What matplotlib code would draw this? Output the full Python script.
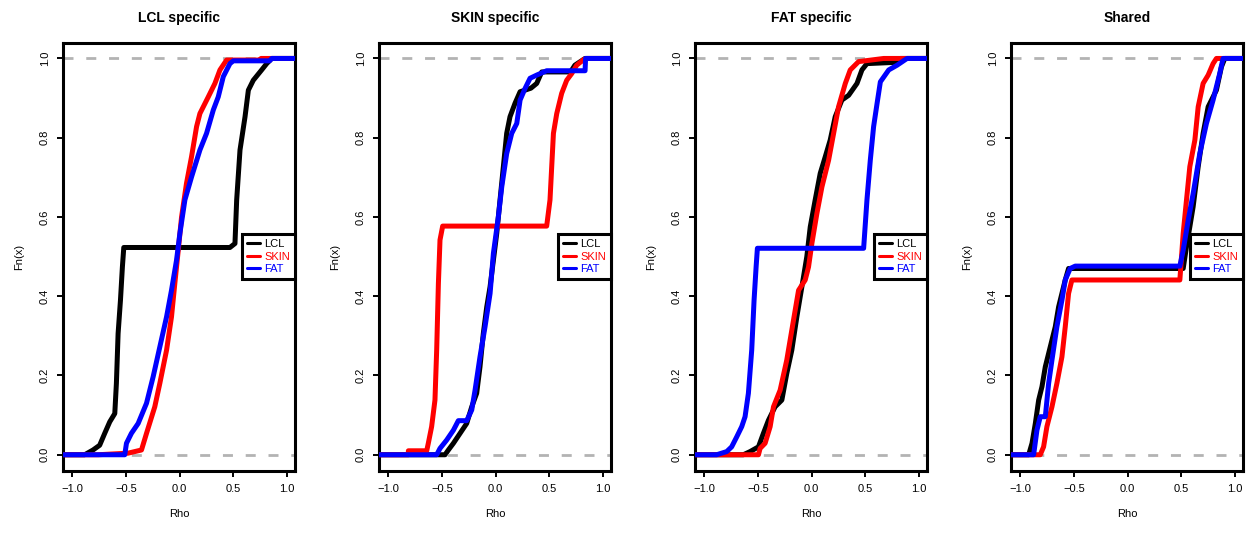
import numpy as np
import matplotlib.pyplot as plt
from matplotlib.ticker import FuncFormatter

plt.rcParams['font.family'] = ['Liberation Sans', 'DejaVu Sans']

titles = ['LCL specific', 'SKIN specific', 'FAT specific', 'Shared']
tissues = ['LCL', 'SKIN', 'FAT']
colors = ['black', '#ff0000', '#0000ff']

# ECDF knots (rho, Fn) per panel and tissue
p1_lcl_rho = [-0.885, -0.807, -0.745, -0.698, -0.651, -0.604, -0.589, -0.573, -0.551, -0.533, -0.520,
              0.470, 0.517, 0.533, 0.564, 0.611, 0.642, 0.688, 0.766, 0.813, 0.860]
p1_lcl_fn = [0.0, 0.012, 0.024, 0.054, 0.083, 0.104, 0.180, 0.306, 0.390, 0.474, 0.523,
             0.523, 0.533, 0.643, 0.769, 0.853, 0.920, 0.945, 0.971, 0.987, 1.0]
p1_skin_rho = [-0.76, -0.48, -0.355, -0.308, -0.231, -0.184, -0.121, -0.075, -0.044, -0.012, 0.019,
               0.065, 0.112, 0.159, 0.190, 0.268, 0.330, 0.377, 0.439, 0.750, 0.760]
p1_skin_fn = [0.0, 0.004, 0.012, 0.054, 0.121, 0.180, 0.264, 0.348, 0.432, 0.516, 0.600,
              0.685, 0.752, 0.828, 0.861, 0.903, 0.937, 0.971, 0.996, 0.996, 1.0]
p1_fat_rho = [-0.511, -0.495, -0.449, -0.386, -0.308, -0.246, -0.184, -0.121, -0.075, -0.028, 0.003,
              0.050, 0.112, 0.190, 0.252, 0.315, 0.361, 0.408, 0.470, 0.502, 0.840, 0.860]
p1_fat_fn = [0.0, 0.029, 0.054, 0.079, 0.130, 0.197, 0.272, 0.348, 0.415, 0.491, 0.558,
             0.643, 0.701, 0.769, 0.811, 0.870, 0.903, 0.954, 0.987, 0.994, 0.994, 1.0]

p2_lcl_rho = [-0.471, -0.440, -0.393, -0.331, -0.269, -0.222, -0.176, -0.145, -0.114, -0.082, -0.051,
              -0.020, 0.011, 0.042, 0.073, 0.104, 0.135, 0.182, 0.229, 0.275, 0.330, 0.384, 0.431,
              0.700, 0.740, 0.835]
p2_lcl_fn = [0.0, 0.012, 0.029, 0.054, 0.079, 0.121, 0.155, 0.222, 0.306, 0.373, 0.424,
             0.491, 0.558, 0.643, 0.727, 0.811, 0.853, 0.887, 0.916, 0.920, 0.925, 0.937, 0.966,
             0.966, 0.983, 1.0]
p2_skin_rho = [-0.813, -0.813, -0.642, -0.627, -0.596, -0.565, -0.549, -0.533, -0.518, -0.493,
               0.477, 0.508, 0.524, 0.540, 0.571, 0.617, 0.664, 0.711, 0.757, 0.820, 0.850]
p2_skin_fn = [0.0, 0.010, 0.010, 0.029, 0.071, 0.138, 0.264, 0.432, 0.542, 0.577,
              0.577, 0.643, 0.727, 0.811, 0.861, 0.912, 0.945, 0.962, 0.983, 0.997, 1.0]
p2_fat_rho = [-0.549, -0.518, -0.456, -0.393, -0.347, -0.269, -0.222, -0.191, -0.145, -0.098, -0.051,
              -0.020, 0.026, 0.058, 0.104, 0.151, 0.198, 0.229, 0.275, 0.322, 0.384, 0.477, 0.835, 0.840]
p2_fat_fn = [0.0, 0.016, 0.037, 0.062, 0.086, 0.086, 0.113, 0.163, 0.247, 0.323, 0.407,
             0.508, 0.600, 0.676, 0.760, 0.811, 0.836, 0.895, 0.924, 0.950, 0.958, 0.969, 0.969, 1.0]

p3_lcl_rho = [-0.636, -0.573, -0.495, -0.449, -0.402, -0.340, -0.277, -0.231, -0.184, -0.137, -0.090,
              -0.044, -0.012, 0.034, 0.081, 0.128, 0.174, 0.221, 0.283, 0.346, 0.424, 0.470, 0.517,
              0.766, 0.829]
p3_lcl_fn = [0.0, 0.008, 0.020, 0.054, 0.087, 0.121, 0.138, 0.205, 0.264, 0.348, 0.424,
             0.500, 0.575, 0.643, 0.710, 0.752, 0.794, 0.853, 0.895, 0.907, 0.937, 0.971, 0.987,
             0.990, 1.0]
p3_skin_rho = [-0.495, -0.480, -0.433, -0.386, -0.355, -0.293, -0.231, -0.168, -0.121, -0.059, -0.028,
               0.003, 0.050, 0.097, 0.159, 0.206, 0.252, 0.315, 0.361, 0.439, 0.673]
p3_skin_fn = [0.0, 0.016, 0.029, 0.071, 0.121, 0.163, 0.239, 0.340, 0.415, 0.441, 0.474,
              0.533, 0.609, 0.676, 0.743, 0.811, 0.878, 0.937, 0.971, 0.992, 1.0]
p3_fat_rho = [-0.885, -0.791, -0.745, -0.698, -0.651, -0.620, -0.589, -0.558, -0.536, -0.517, -0.505,
              0.486, 0.517, 0.548, 0.579, 0.611, 0.642, 0.720, 0.798, 0.891]
p3_fat_fn = [0.0, 0.008, 0.020, 0.045, 0.071, 0.096, 0.155, 0.264, 0.390, 0.474, 0.521,
             0.521, 0.643, 0.743, 0.828, 0.886, 0.941, 0.971, 0.983, 1.0]

p4_lcl_rho = [-0.922, -0.891, -0.860, -0.829, -0.798, -0.767, -0.721, -0.674, -0.643, -0.612, -0.581,
              -0.550, 0.519, 0.550, 0.581, 0.612, 0.659, 0.705, 0.752, 0.829, 0.876, 0.907]
p4_lcl_fn = [0.0, 0.029, 0.079, 0.138, 0.172, 0.222, 0.272, 0.323, 0.373, 0.407, 0.441,
             0.470, 0.470, 0.525, 0.575, 0.626, 0.727, 0.811, 0.878, 0.920, 0.979, 1.0]
p4_skin_rho = [-0.814, -0.783, -0.752, -0.705, -0.659, -0.612, -0.581, -0.550, -0.519,
               0.488, 0.519, 0.550, 0.581, 0.628, 0.659, 0.705, 0.752, 0.798, 0.829]
p4_skin_fn = [0.0, 0.020, 0.071, 0.121, 0.180, 0.247, 0.323, 0.407, 0.441,
              0.441, 0.558, 0.643, 0.727, 0.794, 0.878, 0.937, 0.958, 0.987, 1.0]
p4_fat_rho = [-0.876, -0.845, -0.814, -0.767, -0.736, -0.705, -0.659, -0.612, -0.581, -0.535, -0.488,
              0.488, 0.519, 0.566, 0.612, 0.674, 0.736, 0.798, 0.860, 0.891]
p4_fat_fn = [0.0, 0.062, 0.096, 0.096, 0.180, 0.239, 0.323, 0.390, 0.441, 0.470, 0.476,
             0.476, 0.516, 0.592, 0.659, 0.760, 0.836, 0.895, 0.962, 1.0]

panels = [
    [(p1_lcl_rho, p1_lcl_fn), (p1_skin_rho, p1_skin_fn), (p1_fat_rho, p1_fat_fn)],
    [(p2_lcl_rho, p2_lcl_fn), (p2_skin_rho, p2_skin_fn), (p2_fat_rho, p2_fat_fn)],
    [(p3_lcl_rho, p3_lcl_fn), (p3_skin_rho, p3_skin_fn), (p3_fat_rho, p3_fat_fn)],
    [(p4_lcl_rho, p4_lcl_fn), (p4_skin_rho, p4_skin_fn), (p4_fat_rho, p4_fat_fn)],
]

fmt = FuncFormatter(lambda v, pos: ('%.1f' % v).replace('-', '\u2212'))

W, H = 1248, 544
fig = plt.figure(figsize=(W / 100, H / 100), dpi=100)
lefts = [63, 379, 695, 1011]

for i, (title, curves) in enumerate(zip(titles, panels)):
    ax = fig.add_axes([lefts[i] / W, 73 / H, 232 / W, 428 / H])
    for j, ((rho, fn), col) in enumerate(zip(curves, colors)):
        x = np.r_[-2.0, rho, 2.0]
        y = np.r_[0.0, fn, 1.0]
        z = 2 if j == 0 else 3 + j
        ax.plot(x, y, color=col, lw=3.6, solid_capstyle='round', solid_joinstyle='round',
                zorder=z, label=tissues[j])
        if j == 0:
            # 0/1 reference lines go on after the first curve
            for h in (0, 1):
                ax.axhline(h, color='#b3b3b3', lw=2, dashes=(3.6, 4.6), zorder=2.5)
    ax.set_xlim(-1.087, 1.077)
    ax.set_ylim(-0.041, 1.039)
    ax.set_xticks([-1.0, -0.5, 0.0, 0.5, 1.0])
    ax.set_yticks([0.0, 0.2, 0.4, 0.6, 0.8, 1.0])
    ax.xaxis.set_major_formatter(fmt)
    ax.yaxis.set_major_formatter(fmt)
    ax.tick_params(length=4.5, width=1.4, pad=5, labelsize=8, colors='black')
    ax.tick_params(axis='y', labelrotation=90)
    for t in ax.get_yticklabels():
        t.set_va('center')
    for s in ax.spines.values():
        s.set_linewidth(2.2)
    ax.set_title(title, fontsize=10, fontweight='bold', pad=15)
    ax.set_xlabel('Rho', fontsize=8, labelpad=11)
    ax.set_ylabel('Fn(x)', fontsize=8, labelpad=11)

    leg = ax.legend(loc='center right', bbox_to_anchor=(1.0, 0.501), fontsize=8,
                    frameon=True, fancybox=False, borderaxespad=0, borderpad=0.45,
                    labelspacing=0.2, handlelength=1.2, handletextpad=0.35)
    leg.get_frame().set_edgecolor('black')
    leg.get_frame().set_linewidth(2.2)
    leg.get_frame().set_alpha(1)
    leg.set_zorder(10)
    for line in leg.get_lines():
        line.set_linewidth(2.2)
    for txt, col in zip(leg.get_texts(), colors):
        txt.set_color(col)

fig.savefig('out.png', dpi=100)
